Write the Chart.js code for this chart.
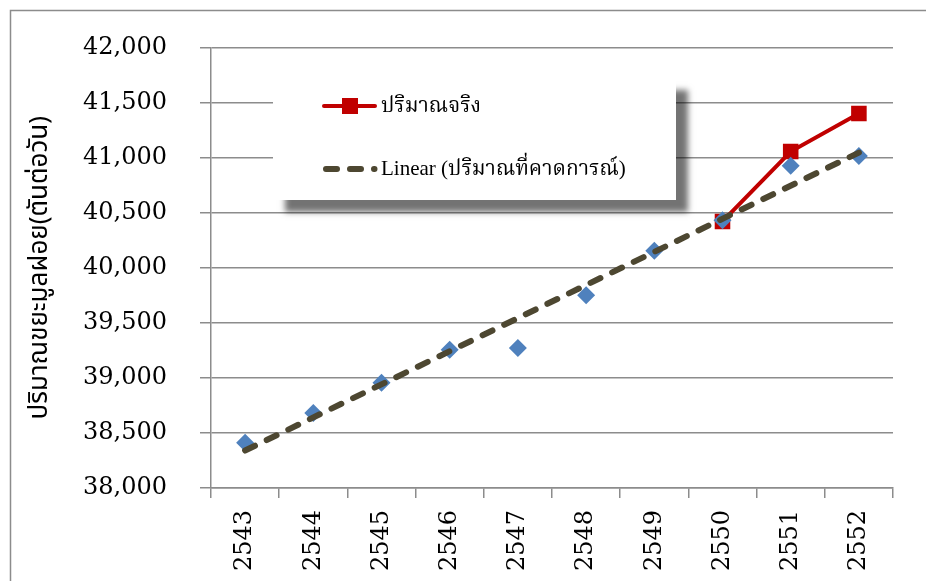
<!DOCTYPE html>
<html>
<head>
<meta charset="utf-8">
<script src="https://cdn.jsdelivr.net/npm/chart.js@4.4.1/dist/chart.umd.min.js"></script>
<style>
  html, body { margin: 0; padding: 0; background: #ffffff; }
  canvas { display: block; }
</style>
</head>
<body>
<canvas id="chart" width="926" height="581"></canvas>
<script>
// Years (Buddhist Era) on the category axis
const years = ['2543', '2544', '2545', '2546', '2547', '2548', '2549', '2550', '2551', '2552'];

// Forecast quantity (tonnes per day) – blue diamonds
const forecastValues = [38410, 38680, 38955, 39255, 39270, 39750, 40155, 40430, 40925, 41015];

// Actual quantity (tonnes per day) – red line, only the last three years
const actualValues = [null, null, null, null, null, null, null, 40420, 41055, 41400];

// Linear trend of the forecast, start and end values
const trendValues = [38340, null, null, null, null, null, null, null, null, 41045];

// Value axis range and step
const yMin = 38000;
const yMax = 42000;
const yStep = 500;

const yAxisTitle = 'ปริมาณขยะมูลฝอย(ตันต่อวัน)';
const actualLabel = 'ปริมาณจริง';
const forecastLabel = 'ปริมาณที่คาดการณ์';
const trendLabel = 'Linear (ปริมาณที่คาดการณ์)';

const GRID = '#8c8c8c';
const RED = '#c00000';
const BLUE = '#4f81bd';
const OLIVE = '#4d4731';
const NUM_FONT = '"DejaVu Serif", "Liberation Serif", serif';
const THAI_FONT = '"Noto Sans Thai", "Noto Sans", "DejaVu Sans", sans-serif';
const LEGEND_FONT = '"Liberation Serif", "Noto Serif Thai", "Noto Sans Thai", serif';

// Outer frame of the chart object
const framePlugin = {
  id: 'frame',
  beforeDraw(chart) {
    const ctx = chart.ctx;
    ctx.save();
    ctx.strokeStyle = GRID;
    ctx.lineWidth = 1.5;
    ctx.strokeRect(10.5, 10.5, 2000, 2000);
    ctx.restore();
  }
};

// Floating legend box with a drop shadow inside the plot
const legendBoxPlugin = {
  id: 'legendBox',
  beforeDatasetsDraw(chart) {
    const ctx = chart.ctx;
    const box = { x: 273, y: 78, w: 403, h: 122 };
    ctx.save();
    ctx.shadowColor = 'rgba(0,0,0,0.55)';
    ctx.shadowBlur = 6;
    ctx.shadowOffsetX = 12;
    ctx.shadowOffsetY = 12;
    ctx.fillStyle = '#ffffff';
    ctx.fillRect(box.x, box.y, box.w, box.h);
    ctx.restore();

    ctx.save();
    // actual series sample
    const y1 = 106;
    ctx.strokeStyle = RED;
    ctx.lineWidth = 4;
    ctx.lineCap = 'round';
    ctx.beginPath();
    ctx.moveTo(324, y1);
    ctx.lineTo(375, y1);
    ctx.stroke();
    ctx.fillStyle = RED;
    ctx.fillRect(342, y1 - 8, 16, 16);

    // trend sample: two dashes and a dot
    const y2 = 169;
    ctx.strokeStyle = OLIVE;
    ctx.lineWidth = 6;
    ctx.setLineDash([11, 13]);
    ctx.beginPath();
    ctx.moveTo(326, y2);
    ctx.lineTo(374.5, y2);
    ctx.stroke();
    ctx.setLineDash([]);

    ctx.fillStyle = '#000000';
    ctx.textBaseline = 'middle';
    ctx.textAlign = 'left';
    ctx.font = '21px ' + LEGEND_FONT;
    ctx.fillText(actualLabel, 381, y1);
    ctx.fillText(trendLabel, 381, y2);
    ctx.restore();
  }
};

new Chart(document.getElementById('chart'), {
  type: 'line',
  data: {
    labels: years,
    datasets: [
      {
        label: trendLabel,
        data: trendValues,
        borderColor: OLIVE,
        borderWidth: 6,
        borderDash: [11, 13],
        borderCapStyle: 'round',
        pointRadius: 0,
        spanGaps: true,
        fill: false,
        tension: 0,
        order: 0
      },
      {
        label: forecastLabel,
        data: forecastValues,
        showLine: false,
        pointStyle: 'rectRot',
        pointRadius: 9,
        pointBackgroundColor: BLUE,
        pointBorderColor: BLUE,
        pointBorderWidth: 0,
        order: 1
      },
      {
        label: actualLabel,
        data: actualValues,
        borderColor: RED,
        borderWidth: 4,
        pointStyle: 'rect',
        pointRadius: 11,
        pointBackgroundColor: RED,
        pointBorderColor: RED,
        pointBorderWidth: 0,
        tension: 0,
        fill: false,
        order: 2
      }
    ]
  },
  options: {
    responsive: false,
    animation: false,
    layout: { padding: { top: 44, right: 33, left: 0, bottom: 0 } },
    plugins: {
      legend: { display: false },
      tooltip: { enabled: false }
    },
    scales: {
      x: {
        type: 'category',
        offset: true,
        grid: {
          offset: true,
          drawOnChartArea: false,
          drawTicks: true,
          tickLength: 10,
          color: GRID,
          lineWidth: 1.5
        },
        border: { color: GRID, width: 1.5 },
        ticks: {
          minRotation: 90,
          maxRotation: 90,
          padding: 12,
          color: '#000000',
          font: { family: NUM_FONT, size: 24 }
        },
        afterFit(scale) { scale.height = 93; }
      },
      y: {
        min: yMin,
        max: yMax,
        ticks: {
          stepSize: yStep,
          padding: 33,
          color: '#000000',
          font: { family: NUM_FONT, size: 24 },
          callback: (v) => Number(v).toLocaleString('en-US')
        },
        grid: {
          color: GRID,
          lineWidth: 1.5,
          tickLength: 11
        },
        border: { color: GRID, width: 1.5 },
        title: {
          display: true,
          text: yAxisTitle,
          color: '#000000',
          font: { family: THAI_FONT, size: 26 },
          padding: { top: 26, bottom: 0 }
        },
        afterFit(scale) { scale.width = 211; }
      }
    }
  },
  plugins: [framePlugin, legendBoxPlugin]
});
</script>
</body>
</html>
